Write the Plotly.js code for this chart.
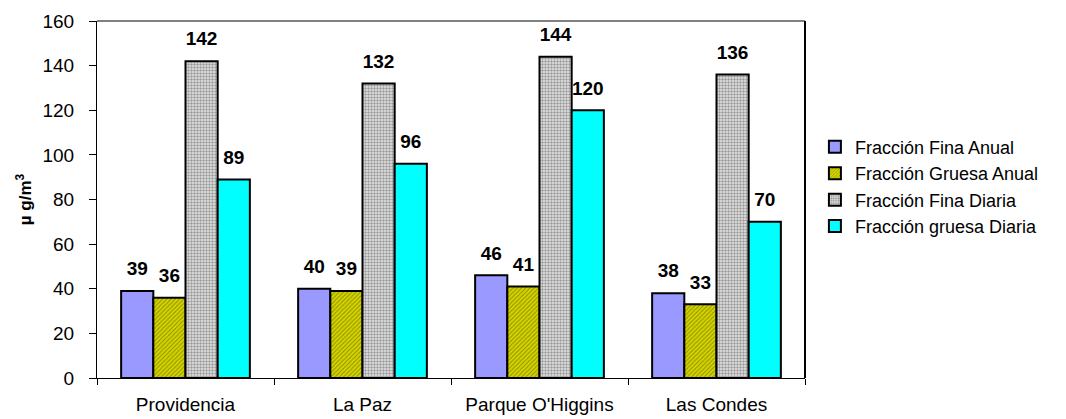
<!DOCTYPE html>
<html><head><meta charset="utf-8">
<script src="https://cdn.plot.ly/plotly-3.0.1.min.js"></script>
<style>body{margin:0;background:#fff}#c{width:1066px;height:419px}</style>
</head><body><div id="c"></div>
<script>
const categories = ["Providencia", "La Paz", "Parque O'Higgins", "Las Condes"];
const seriesNames = ["Fracción Fina Anual", "Fracción Gruesa Anual", "Fracción Fina Diaria", "Fracción gruesa Diaria"];
const finaAnual = [39, 40, 46, 38];
const gruesaAnual = [36, 39, 41, 33];
const finaDiaria = [142, 132, 144, 136];
const gruesaDiaria = [89, 96, 120, 70];
const yTicks = [0, 20, 40, 60, 80, 100, 120, 140, 160];

const styles = [
  {color: '#9999FF'},
  {color: '#CCCC00', pattern: {shape: '/', fgcolor: '#8C8C00', bgcolor: '#D4D400', size: 3, solidity: 0.3}},
  {color: '#C0C0C0', pattern: {shape: '.', fgcolor: '#9A9A9A', bgcolor: '#E8E8E8', size: 3, solidity: 0.5}},
  {color: '#00FFFF'}
];
const series = [finaAnual, gruesaAnual, finaDiaria, gruesaDiaria];
const bars = series.map((vals, i) => ({
  type: 'bar', name: seriesNames[i], x: categories, y: vals,
  marker: Object.assign({line: {color: '#000', width: 2}}, styles[i])
}));
const labels = series.map((vals, i) => ({
  type: 'scatter', mode: 'markers+text', orientation: 'v', showlegend: false,
  x: categories, y: vals, text: vals.map(String), textposition: 'top center',
  cliponaxis: false, hoverinfo: 'skip',
  marker: {size: 16, opacity: 0, color: '#fff'},
  textfont: {family: 'Liberation Sans, Arial', size: 19, color: '#000', weight: 'bold'}
}));

const layout = {
  width: 1066, height: 419,
  margin: {l: 97, r: 261, t: 21, b: 41},
  paper_bgcolor: '#fff', plot_bgcolor: '#fff',
  barmode: 'group', bargap: 0.2727, bargroupgap: 0,
  scattermode: 'group', scattergap: 0.2727,
  font: {family: 'Liberation Sans, Arial', size: 19, color: '#000'},
  xaxis: {
    showline: true, linecolor: '#000', linewidth: 1, mirror: false,
    ticks: 'outside', tickson: 'boundaries', ticklen: 6, tickcolor: '#000',
    tickfont: {size: 19}, showgrid: false, ticklabelstandoff: 9
  },
  yaxis: {
    range: [0, 160], tickvals: yTicks, ticks: 'outside', ticklen: 7, tickcolor: '#000',
    showline: true, linecolor: '#000', linewidth: 1, showgrid: false, zeroline: false,
    tickfont: {size: 19}, ticklabelstandoff: 11,
    title: {text: '<b>µ g/m<sup>3</sup></b>', font: {size: 17}, standoff: 6}
  },
  shapes: [
    {type: 'line', xref: 'paper', yref: 'paper', x0: 0, x1: 1, y0: 1, y1: 1, line: {color: '#808080', width: 2}},
    {type: 'line', xref: 'paper', yref: 'paper', x0: 1, x1: 1, y0: 0, y1: 1, line: {color: '#000', width: 2}}
  ],
  legend: {
    x: 1.014, y: 0.536, xanchor: 'left', yanchor: 'middle',
    font: {size: 18}, tracegroupgap: 0, itemwidth: 30
  },
  showlegend: true
};
Plotly.newPlot('c', bars.concat(labels), layout, {displayModeBar: false, staticPlot: true});
</script></body></html>
